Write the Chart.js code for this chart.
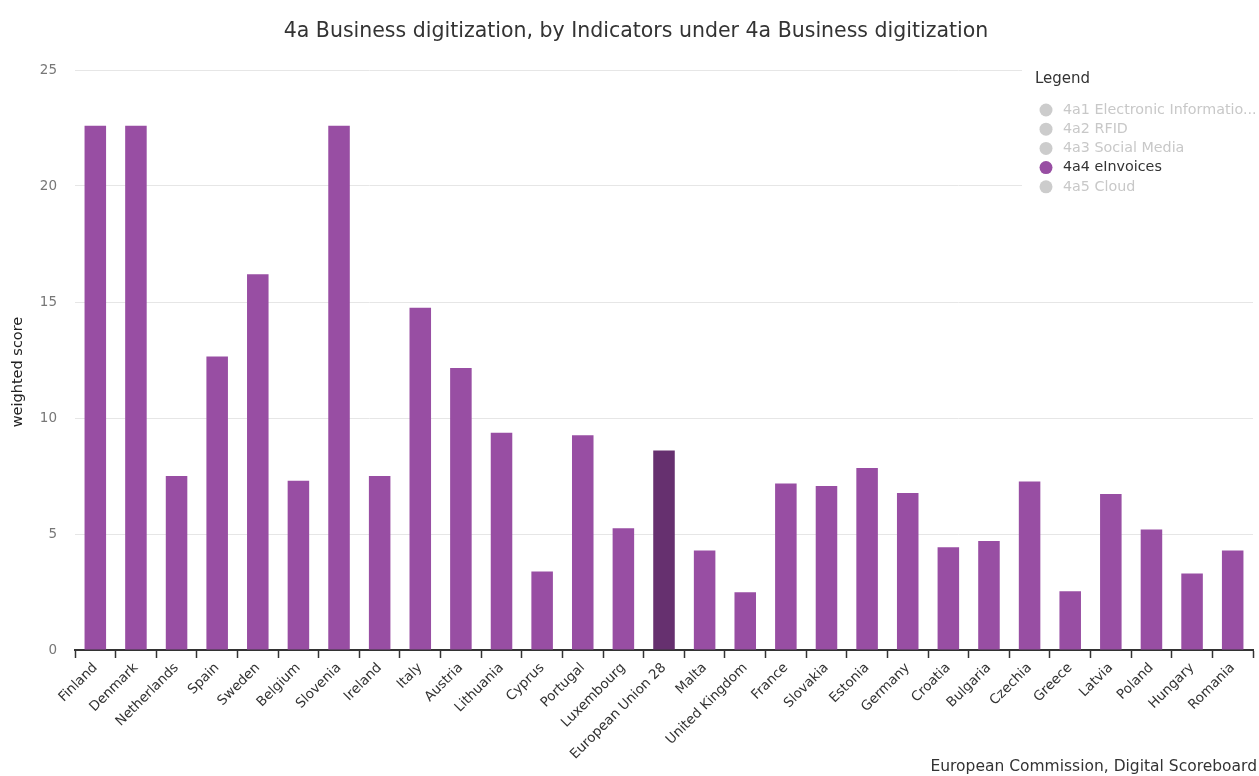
<!DOCTYPE html>
<html>
<head>
<meta charset="utf-8">
<script src="https://cdn.jsdelivr.net/npm/chart.js@4"></script>
<style>
  html, body { margin: 0; padding: 0; background: #fff; }
  #wrap { width: 1259px; height: 776px; }
</style>
</head>
<body>
<div id="wrap"><canvas id="chart" width="1259" height="776"></canvas></div>
<script>
const countries = ['Finland', 'Denmark', 'Netherlands', 'Spain', 'Sweden', 'Belgium', 'Slovenia', 'Ireland', 'Italy', 'Austria',
    'Lithuania', 'Cyprus', 'Portugal', 'Luxembourg', 'European Union 28', 'Malta', 'United Kingdom', 'France', 'Slovakia',
    'Estonia', 'Germany', 'Croatia', 'Bulgaria', 'Czechia', 'Greece', 'Latvia', 'Poland', 'Hungary', 'Romania'];
const eInvoices = [22.6, 22.6, 7.5, 12.65, 16.2, 7.3, 22.6, 7.5, 14.75, 12.15,
    9.36, 3.38, 9.26, 5.25, 8.6, 4.29, 2.49, 7.18, 7.07,
    7.84, 6.77, 4.43, 4.7, 7.26, 2.53, 6.72, 5.19, 3.3, 4.29];
const yTicks = [0, 5, 10, 15, 20, 25];
const legendItems = ['4a1 Electronic Informatio...', '4a2 RFID', '4a3 Social Media', '4a4 eInvoices', '4a5 Cloud'];
const activeItem = '4a4 eInvoices';

const FONT = '"DejaVu Sans", sans-serif';
const PURPLE = '#984ea3';
const DARK = '#66306f';

// title, y title, legend and source text drawn by hand
const extras = {
    id: 'extras',
    afterDraw(chart) {
        const c = chart.ctx;
        c.save();
        c.fillStyle = '#333';
        c.font = '20.5px ' + FONT;
        c.textAlign = 'center';
        c.textBaseline = 'middle';
        c.fillText('4a Business digitization, by Indicators under 4a Business digitization', 636, 32);

        c.save();
        c.translate(18, 372);
        c.rotate(-Math.PI / 2);
        c.fillStyle = '#222';
        c.font = '14.5px ' + FONT;
        c.fillText('weighted score', 0, 0);
        c.restore();

        // legend box over the plot
        c.fillStyle = '#fff';
        c.fillRect(1022, 62, 237, 135);
        c.textAlign = 'left';
        c.fillStyle = '#333';
        c.font = '15px ' + FONT;
        c.fillText('Legend', 1035, 79);
        c.font = '14.3px ' + FONT;
        legendItems.forEach((t, i) => {
            const y = 110 + i * 19.2;
            const on = t === activeItem;
            c.fillStyle = on ? PURPLE : '#cccccc';
            c.beginPath();
            c.arc(1046, y, 6.5, 0, Math.PI * 2);
            c.fill();
            c.fillStyle = on ? '#333' : '#c8c8c8';
            c.fillText(t, 1063, y);
        });

        c.textAlign = 'right';
        c.fillStyle = '#333';
        c.font = '15.5px ' + FONT;
        c.fillText('European Commission, Digital Scoreboard', 1257, 767);
        c.restore();
    }
};

new Chart(document.getElementById('chart'), {
    type: 'bar',
    data: {
        labels: countries,
        datasets: [{
            label: activeItem,
            data: eInvoices,
            backgroundColor: countries.map(c => c === 'European Union 28' ? DARK : PURPLE),
            barPercentage: 0.53,
            categoryPercentage: 1
        }]
    },
    options: {
        responsive: false,
        animation: false,
        layout: { padding: { top: 70, right: 6, left: 0, bottom: 0 } },
        plugins: {
            legend: { display: false },
            tooltip: { enabled: false }
        },
        scales: {
            x: {
                grid: { display: true, drawOnChartArea: false, offset: true, color: '#333', tickLength: 8, tickWidth: 1.5 },
                border: { display: true, color: '#333', width: 2 },
                ticks: {
                    color: '#333',
                    font: { family: FONT, size: 13.5 },
                    maxRotation: 45,
                    minRotation: 45,
                    autoSkip: false,
                    padding: 2
                },
                afterFit(scale) { scale.height = 126; }
            },
            y: {
                min: 0,
                max: 25,
                afterBuildTicks(scale) { scale.ticks = yTicks.map(v => ({ value: v })); },
                grid: { color: '#e6e6e6', drawTicks: false },
                border: { display: false },
                ticks: { color: '#777', font: { family: FONT, size: 13.5 }, padding: 18 },
                afterFit(scale) { scale.width = 75; }
            }
        }
    },
    plugins: [extras]
});
</script>
</body>
</html>
